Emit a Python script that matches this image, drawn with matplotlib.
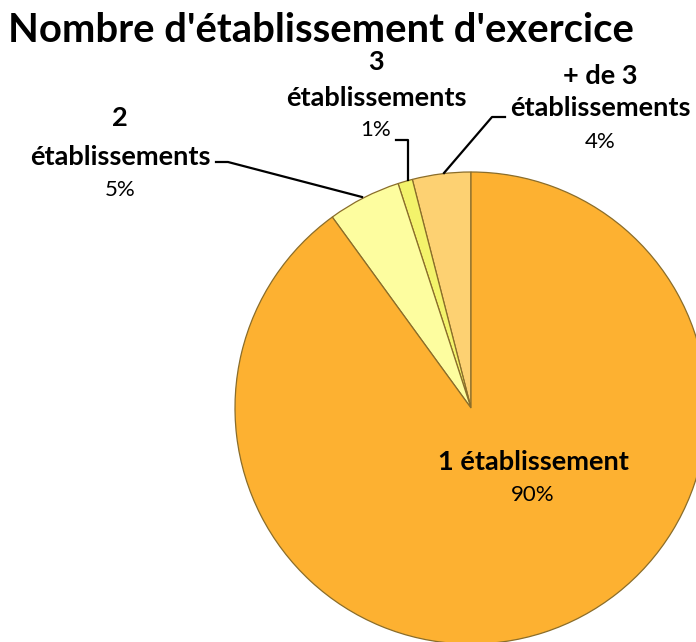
import numpy as np
import matplotlib.pyplot as plt

# data
labels = ['+ de 3\nétablissements', '3\nétablissements', '2\nétablissements', '1 établissement']
values = [4, 1, 5, 90]
colors = ['#FDD172', '#F3F36B', '#FDFD9F', '#FDB131']

title = "Nombre d'établissement d'exercice"

W, H = 696, 642
fig = plt.figure(figsize=(W / 100, H / 100), dpi=100)
ax = fig.add_axes([0, 0, 1, 1])

cx, cy, r = 471, 408, 236

# y axis is flipped (pixel frame), so counterclock=False runs anticlockwise on screen
wedges, _ = ax.pie(values, colors=colors, startangle=-90, counterclock=False,
                   center=(cx, cy), radius=r, frame=True,
                   wedgeprops=dict(edgecolor='#8a6d2a', linewidth=0.9))
ax.set_xlim(0, W)
ax.set_ylim(H, 0)
ax.set_aspect('equal')
ax.axis('off')

fig.text(8 / W, 1 - 31 / H, title, fontsize=28.8, fontweight='bold',
         family='Lato', va='center', ha='left')

# y of each text line: name lines..., percent
xs = [600, 376, 120, 533]
ys = [[76, 108, 142], [62, 98, 130], [118, 157, 190], [462, 495]]

for lab, v, x, yy in zip(labels, values, xs, ys):
    for line, y in zip(lab.split('\n'), yy[:-1]):
        ax.text(x, y, line, ha='center', va='center', fontsize=19.5,
                fontweight='bold', family='Lato')
    ax.text(x, yy[-1], f'{v}%', ha='center', va='center', fontsize=16, family='Lato')

# leader lines
ax.plot([216, 228, 362], [162, 162, 197], color='black', lw=1.6)
ax.plot([396, 408, 408], [140, 140, 180], color='black', lw=1.6)
ax.plot([505, 492, 444], [117, 117, 173], color='black', lw=1.6)

fig.savefig('out.png', dpi=100)
